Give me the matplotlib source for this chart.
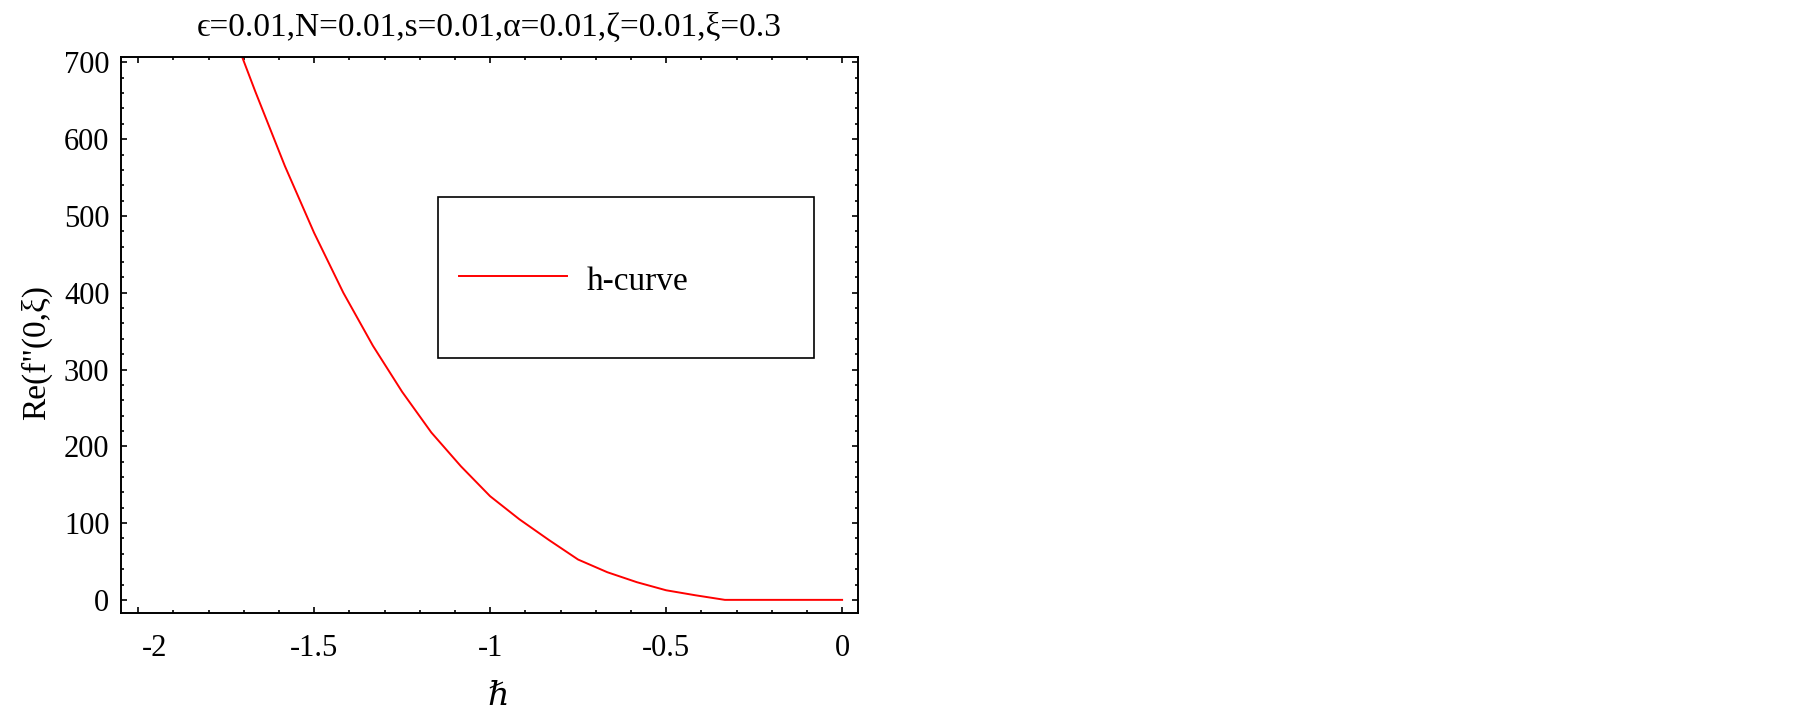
import matplotlib
matplotlib.use("Agg")
import matplotlib.pyplot as plt
from matplotlib.ticker import MultipleLocator, FixedLocator, FixedFormatter
from matplotlib.patches import Rectangle
from matplotlib.lines import Line2D
import matplotlib.transforms as mtrans

# ---- data ----
h_values = [-1.75, -1.667, -1.583, -1.5, -1.417, -1.333, -1.25, -1.167, -1.083,
            -1.0, -0.917, -0.833, -0.75, -0.667, -0.583, -0.5, -0.417, -0.333,
            -0.25, -0.167, -0.083, 0.0]
re_values = [762, 662, 565, 478, 400, 331, 271, 218, 174,
             135, 105, 78, 52.5, 36, 23, 12.5, 6, 0,
             0, 0, 0, 0]
x_ticks = [-2, -1.5, -1, -0.5, 0]
x_tick_labels = ["-2", "-1.5", "-1", "-0.5", "0"]
y_ticks = [0, 100, 200, 300, 400, 500, 600, 700]
y_tick_labels = ["0", "100", "200", "300", "400", "500", "600", "700"]
title_text = "ϵ=0.01,N=0.01,s=0.01,α=0.01,ζ=0.01,ξ=0.3"
x_label = "ℏ"
y_label = 'Re(f"(0,ξ)'
legend_label = "h-curve"

plt.rcParams['font.family'] = ['Liberation Serif', 'DejaVu Serif']
plt.rcParams['axes.unicode_minus'] = False

W, H = 1805, 714
fig = plt.figure(figsize=(W / 100, H / 100), dpi=100)
ax_l, ax_r, ax_t, ax_b = 120.5, 858.3, 57.0, 613.3
ax = fig.add_axes([ax_l / W, 1 - ax_b / H, (ax_r - ax_l) / W, (ax_b - ax_t) / H])

ax.plot(h_values, re_values, color='#ff0000', lw=1.4, label=legend_label)
ax.set_xlim(-2.05, 0.046)
ax.set_ylim(-17.5, 707)

ax.xaxis.set_major_locator(FixedLocator(x_ticks))
ax.xaxis.set_major_formatter(FixedFormatter(x_tick_labels))
ax.yaxis.set_major_locator(FixedLocator(y_ticks))
ax.yaxis.set_major_formatter(FixedFormatter(y_tick_labels))
ax.xaxis.set_minor_locator(MultipleLocator(0.1))
ax.yaxis.set_minor_locator(MultipleLocator(20))

for s in ax.spines.values():
    s.set_linewidth(1.4)
ax.tick_params(which='both', direction='in', top=True, right=True, width=1.2)
ax.tick_params(which='major', length=4.5)
ax.tick_params(which='minor', length=2.5)
ax.tick_params(axis='x', which='major', labelsize=22, pad=15)
ax.tick_params(axis='y', which='major', labelsize=22, pad=8)

# shift the "-2" label slightly right as in reference
lbls = ax.get_xticklabels()
off = mtrans.ScaledTranslation(16 / 100, 0, fig.dpi_scale_trans)
lbls[0].set_transform(lbls[0].get_transform() + off)

ax.set_xlabel(x_label, fontsize=24, style='italic', va='center')
ax.xaxis.set_label_coords((498 - ax_l) / (ax_r - ax_l), (ax_b - 697) / (ax_b - ax_t))
ax.set_ylabel(y_label, fontsize=24, va='center')
ax.yaxis.set_label_coords((36.7 - ax_l) / (ax_r - ax_l), (ax_b - 352) / (ax_b - ax_t))

fig.text(((ax_l + ax_r) / 2) / W, 1 - 36 / H, title_text, fontsize=24,
         ha='center', va='baseline')

# legend box drawn in axes coordinates
def ax_x(px):
    return (px - ax_l) / (ax_r - ax_l)

def ax_y(py):
    return (ax_b - py) / (ax_b - ax_t)

bx0, bx1, by0, by1 = ax_x(438.3), ax_x(814), ax_y(358.3), ax_y(197.3)
ax.add_patch(Rectangle((bx0, by0), bx1 - bx0, by1 - by0, transform=ax.transAxes,
                       fill=False, edgecolor='black', lw=1.2, zorder=5))
ax.add_line(Line2D([ax_x(459.3), ax_x(566.7)], [ax_y(276), ax_y(276)],
                   transform=ax.transAxes, color='#ff0000', lw=1.4, zorder=6))
ax.text(ax_x(586.7), ax_y(290), legend_label, transform=ax.transAxes,
        fontsize=24, ha='left', va='baseline', zorder=6)

fig.savefig("out.png", dpi=100)
